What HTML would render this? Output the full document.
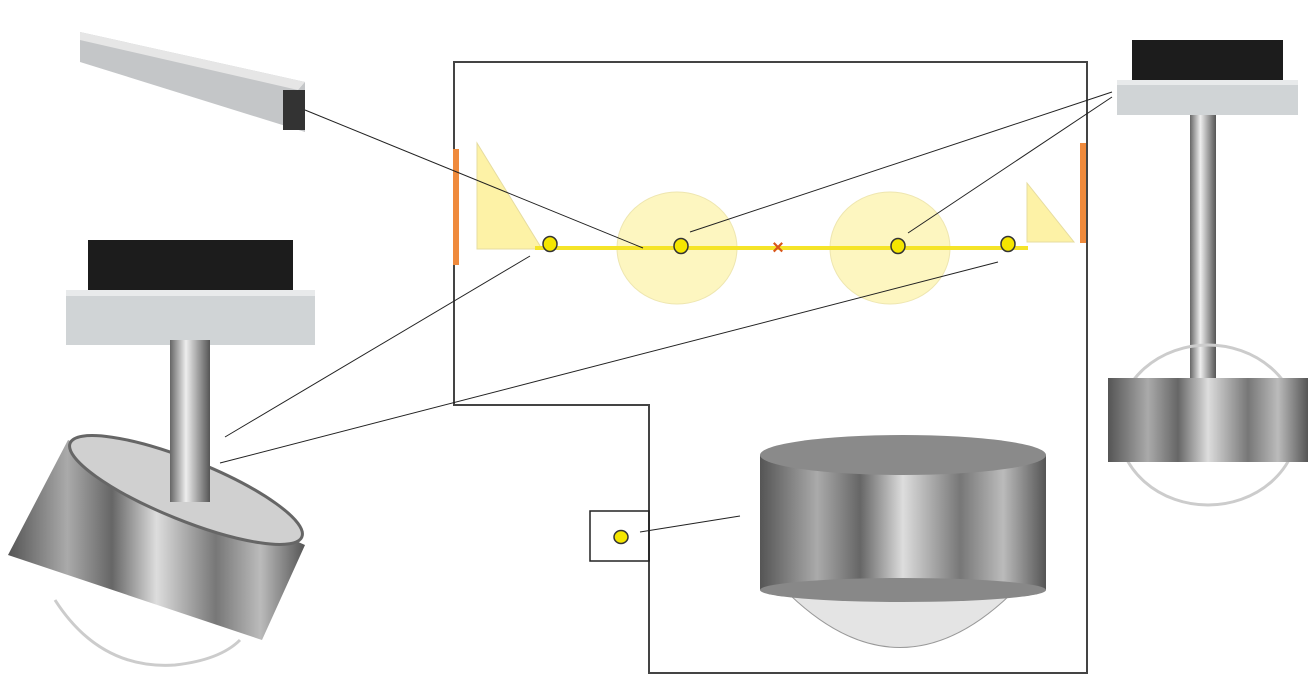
<!DOCTYPE html>
<html><head><meta charset="utf-8"><style>
html,body{margin:0;padding:0;background:#fff;width:1316px;height:693px;overflow:hidden}
</style></head><body>
<svg width="1316" height="693" viewBox="0 0 1316 693" xmlns="http://www.w3.org/2000/svg">
<defs>
<linearGradient id="chrome" x1="0" x2="1" y1="0" y2="0">
<stop offset="0" stop-color="#555"/><stop offset="0.2" stop-color="#aaa"/><stop offset="0.35" stop-color="#666"/><stop offset="0.5" stop-color="#ddd"/><stop offset="0.7" stop-color="#777"/><stop offset="0.85" stop-color="#bbb"/><stop offset="1" stop-color="#555"/>
</linearGradient>
<linearGradient id="pole" x1="0" x2="1"><stop offset="0" stop-color="#666"/><stop offset="0.4" stop-color="#eee"/><stop offset="1" stop-color="#555"/></linearGradient>
</defs>
<!-- rail -->
<polygon points="80,32 305,82 305,132 80,62" fill="#c4c6c8"/>
<polygon points="80,32 305,82 298,90 80,40" fill="#e6e6e6"/>
<rect x="283" y="90" width="22" height="40" fill="#333"/>
<!-- left lamp -->
<rect x="88" y="240" width="205" height="52" fill="#1c1c1c"/>
<polygon points="66,290 315,290 315,345 66,345" fill="#d0d4d6"/>
<rect x="66" y="290" width="249" height="6" fill="#e8eaeb"/>
<rect x="170" y="340" width="40" height="160" fill="url(#pole)"/>
<path d="M55,600 Q100,670 175,665 Q220,660 240,640" fill="none" stroke="#ccc" stroke-width="3"/>
<polygon points="68,440 305,545 262,640 8,555" fill="url(#chrome)"/>
<ellipse cx="186" cy="490" rx="125" ry="30" transform="rotate(22 186 490)" fill="#d0d0d0" stroke="#666" stroke-width="3"/>
<rect x="170" y="430" width="40" height="72" fill="url(#pole)"/>
<!-- right lamp -->
<rect x="1132" y="40" width="151" height="42" fill="#1c1c1c"/>
<rect x="1117" y="80" width="181" height="35" fill="#d0d4d6"/>
<rect x="1117" y="80" width="181" height="5" fill="#e8eaeb"/>
<rect x="1190" y="115" width="26" height="265" fill="url(#pole)"/>
<ellipse cx="1208" cy="425" rx="90" ry="80" fill="none" stroke="#ccc" stroke-width="3"/>
<rect x="1108" y="378" width="200" height="84" fill="url(#chrome)"/>
<!-- center lamp -->
<path d="M790,595 Q900,700 1010,595 Z" fill="#e4e4e4" stroke="#999"/>
<rect x="760" y="455" width="286" height="135" fill="url(#chrome)"/>
<ellipse cx="903" cy="455" rx="143" ry="20" fill="#8a8a8a"/>
<ellipse cx="903" cy="590" rx="143" ry="12" fill="#888"/>
<!-- frame -->
<polygon points="454,62 1087,62 1087,673 649,673 649,405 454,405" fill="none" stroke="#444" stroke-width="2"/>
<rect x="590" y="511" width="59" height="50" fill="none" stroke="#222" stroke-width="1.5"/>
<!-- diagram -->
<rect x="453" y="149" width="6" height="116" fill="#ef8a3c"/>
<rect x="1080" y="143" width="6" height="100" fill="#ef8a3c"/>
<polygon points="477,143 477,249 542,249" fill="#fdf2a6" stroke="#e6dca0"/>
<polygon points="1027,183 1027,242 1074,242" fill="#fdf2a6" stroke="#e6dca0"/>
<ellipse cx="677" cy="248" rx="60" ry="56" fill="#fdf6c0" stroke="#eee6b0"/>
<ellipse cx="890" cy="248" rx="60" ry="56" fill="#fdf6c0" stroke="#eee6b0"/>
<line x1="535" y1="248" x2="1028" y2="248" stroke="#f5e428" stroke-width="4"/>
<g fill="#f5e600" stroke="#333" stroke-width="1.5">
<ellipse cx="550" cy="244" rx="7" ry="7.5"/><ellipse cx="681" cy="246" rx="7" ry="7.5"/>
<ellipse cx="898" cy="246" rx="7" ry="7.5"/><ellipse cx="1008" cy="244" rx="7" ry="7.5"/>
<ellipse cx="621" cy="537" rx="7" ry="6.5"/>
</g>
<text x="778" y="254" font-family="Liberation Sans, sans-serif" font-size="20" font-weight="bold" fill="#d9561a" text-anchor="middle">×</text>
<g stroke="#222" stroke-width="1">
<line x1="305" y1="110" x2="643" y2="248"/>
<line x1="690" y1="232" x2="1112" y2="92"/>
<line x1="908" y1="233" x2="1112" y2="97"/>
<line x1="530" y1="256" x2="225" y2="437"/>
<line x1="998" y1="262" x2="220" y2="463"/>
<line x1="640" y1="532" x2="740" y2="516"/>
</g>
</svg>
</body></html>
